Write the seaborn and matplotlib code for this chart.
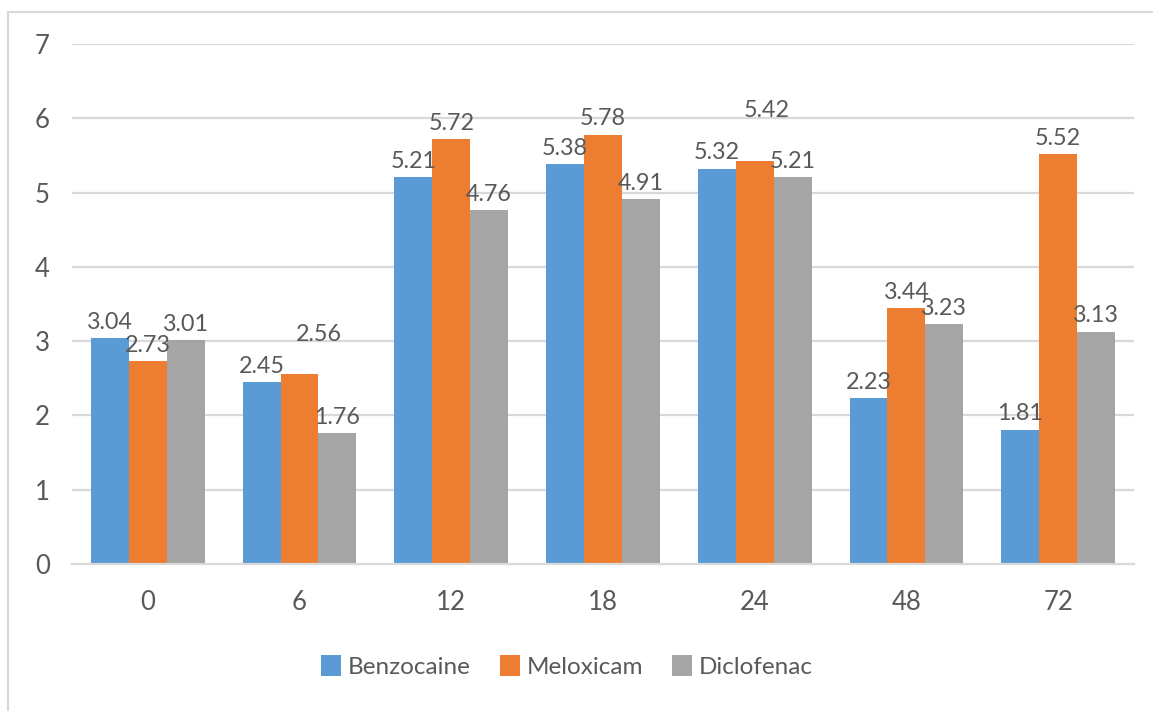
import matplotlib
matplotlib.use("Agg")
import matplotlib.pyplot as plt
import seaborn as sns
import pandas as pd
from matplotlib.patches import Rectangle

# Hours after treatment
hours = ["0", "6", "12", "18", "24", "48", "72"]

# Scores for each drug at each time point
benzocaine = [3.04, 2.45, 5.21, 5.38, 5.32, 2.23, 1.81]
meloxicam = [2.73, 2.56, 5.72, 5.78, 5.42, 3.44, 5.52]
diclofenac = [3.01, 1.76, 4.76, 4.91, 5.21, 3.23, 3.13]

series_names = ["Benzocaine", "Meloxicam", "Diclofenac"]
colors = ["#5B9BD5", "#ED7D31", "#A5A5A5"]
yticks = [0, 1, 2, 3, 4, 5, 6, 7]

df = pd.DataFrame({
    "hour": hours * 3,
    "value": benzocaine + meloxicam + diclofenac,
    "drug": [n for n in series_names for _ in hours],
})

sns.set_theme(style="white")
plt.rcParams["font.family"] = ["Lato", "DejaVu Sans"]
text_color = "#595959"
grid_color = "#D9D9D9"

fig = plt.figure(figsize=(11.53, 7.11), dpi=100)
ax = fig.add_axes([0.0624, 0.2068, 0.9211, 0.7312])

sns.barplot(data=df, x="hour", y="value", hue="drug", order=hours,
            hue_order=series_names, palette=colors, width=0.75, gap=0,
            saturation=1, ax=ax, legend=True, linewidth=0, errorbar=None)

ax.set_xlim(-0.5, len(hours) - 0.5)
ax.set_ylim(0, 7)
ax.set_yticks(yticks)
ax.set_yticklabels([str(t) for t in yticks])
ax.yaxis.grid(True, color=grid_color, linewidth=1.6)
ax.set_axisbelow(True)
for side in ["top", "right", "left"]:
    ax.spines[side].set_visible(False)
ax.spines["bottom"].set_color(grid_color)
ax.spines["bottom"].set_linewidth(1.6)
ax.tick_params(axis="both", length=0, labelsize=18.5, colors=text_color)
ax.tick_params(axis="y", pad=16)
ax.tick_params(axis="x", pad=19)
ax.set_xlabel("")
ax.set_ylabel("")

# Value labels above each bar; a couple are nudged to avoid overlaps
nudges = {("Meloxicam", "6"): (19, 39), ("Meloxicam", "24"): (12, 51)}
for container, name in zip(ax.containers, series_names):
    for bar, hour in zip(container, hours):
        val = bar.get_height()
        dx, dy = nudges.get((name, hour), (0, 16))
        ax.annotate(f"{val:.2f}", (bar.get_x() + bar.get_width() / 2, val),
                    xytext=(dx, dy), textcoords="offset pixels",
                    ha="center", va="center", fontsize=16.8,
                    color=text_color)

handles, labels = ax.get_legend_handles_labels()
ax.legend_.remove()
fig.legend(handles, labels, loc="center", bbox_to_anchor=(0.492, 0.062),
           ncol=3, frameon=False, fontsize=17.5, labelcolor=text_color,
           handlelength=0.8, handleheight=0.95, handletextpad=0.3,
           columnspacing=1.2)

# Light chart-area border
fig.patches.append(Rectangle((8 / 1153, -0.1), 1.2, 0.1 + (711 - 12) / 711,
                             transform=fig.transFigure, fill=False,
                             edgecolor="#D9D9D9", linewidth=1.5))

fig.savefig("out.png", dpi=100, facecolor="white")
